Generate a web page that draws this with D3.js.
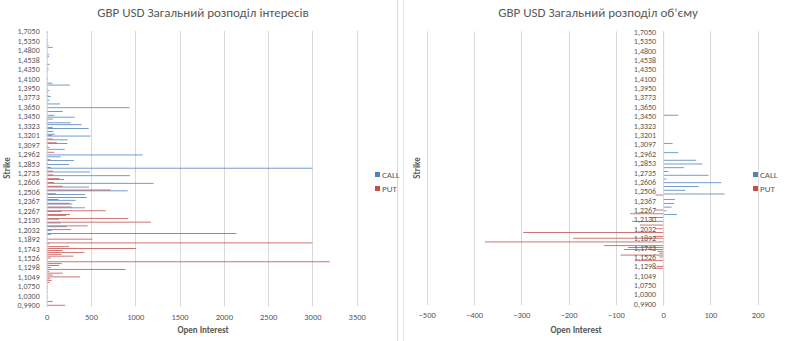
<!DOCTYPE html>
<html><head><meta charset="utf-8">
<script src="https://cdn.jsdelivr.net/npm/d3@7"></script>
<style>
html,body{margin:0;padding:0;background:#fff;}
svg text{font-family:"Liberation Sans Narrow","Carlito","Liberation Sans",Arial,sans-serif;fill:#595959;}
</style></head>
<body><svg id="c" width="800" height="341"></svg>
<script>
// Strikes, bottom (index 0) to top
const strikes = ["0,9900","0,9950","1,0000","1,0100","1,0200","1,0300","1,0400","1,0500","1,0550","1,0650",
"1,0750","1,0800","1,0850","1,0900","1,1000","1,1049","1,1100","1,1150","1,1200","1,1250",
"1,1298","1,1350","1,1400","1,1450","1,1500","1,1526","1,1550","1,1600","1,1650","1,1700",
"1,1743","1,1750","1,1793","1,1800","1,1850","1,1892","1,1900","1,1941","1,1950","1,2000",
"1,2032","1,2050","1,2082","1,2100","1,2106","1,2130","1,2150","1,2181","1,2200","1,2231",
"1,2267","1,2281","1,2300","1,2316","1,2350","1,2367","1,2400","1,2416","1,2450","1,2466",
"1,2506","1,2516","1,2550","1,2566","1,2600","1,2606","1,2650","1,2656","1,2700","1,2706",
"1,2735","1,2750","1,2785","1,2800","1,2835","1,2853","1,2884","1,2900","1,2933","1,2950",
"1,2962","1,3000","1,3011","1,3050","1,3060","1,3097","1,3100","1,3150","1,3159","1,3200",
"1,3201","1,3250","1,3258","1,3300","1,3307","1,3323","1,3350","1,3357","1,3400","1,3406",
"1,3450","1,3500","1,3550","1,3600","1,3620","1,3650","1,3700","1,3724","1,3750","1,3760",
"1,3773","1,3800","1,3850","1,3900","1,3922","1,3950","1,4000","1,4050","1,4071","1,4075",
"1,4100","1,4150","1,4200","1,4250","1,4300","1,4350","1,4400","1,4450","1,4500","1,4525",
"1,4538","1,4600","1,4650","1,4700","1,4750","1,4800","1,4900","1,5000","1,5100","1,5200",
"1,5350","1,5500","1,5800","1,6000","1,6500","1,7050"];

const tickLabels = ["0,9900","1,0300","1,0750","1,1049","1,1298","1,1526","1,1743","1,1892","1,2032","1,2130",
"1,2267","1,2367","1,2506","1,2606","1,2735","1,2853","1,2962","1,3097","1,3201","1,3323",
"1,3450","1,3650","1,3773","1,3950","1,4100","1,4350","1,4538","1,4800","1,5350","1,7050"];

// Open interest (left chart)
const oiCall = [0,0,0,0,0,0,0,0,0,0,
0,0,0,0,0,0,0,0,0,0,
0,0,0,0,0,0,0,0,0,0,
0,0,0,30,0,0,0,0,49,0,
56,0,226,0,158,0,139,0,218,0,
169,0,432,0,290,0,327,0,0,432,
0,915,0,477,0,1207,0,196,0,940,
0,489,0,3000,0,252,0,308,0,158,
1083,0,0,203,30,0,233,0,237,0,
496,90,0,0,474,0,395,270,0,68,
316,86,0,180,0,936,0,150,0,34,
0,45,0,15,30,8,0,260,64,0,
10,8,0,0,15,0,0,0,35,0,
0,0,25,30,0,0,0,68,20,8,
8,8,0,0,0,10];

const oiPut = [207,0,68,0,8,0,0,8,0,8,
11,0,30,56,38,376,68,180,30,891,
45,139,169,3196,8,49,301,169,425,180,
1008,252,0,3000,0,515,0,0,2143,0,
274,0,462,0,1177,0,921,0,263,0,
665,0,282,0,263,0,132,451,0,102,
0,722,0,180,0,83,0,143,0,75,
0,68,0,45,0,8,0,45,0,10,
0,86,0,0,15,0,113,0,68,0,
60,0,75,0,68,0,10,0,8,0,
0,0,0,0,0,0,0,0,0,0,
0,19,0,0,0,0,0,0,0,0,
0,0,0,0,0,22,0,0,0,0,
0,0,0,0,0,0,0,0,0,0,
0,0,0,0,0,0];

// Volume (right chart)
const volCall = [0,0,0,0,0,0,0,0,0,0,
0,0,0,0,0,0,0,0,0,0,
0,0,0,0,0,0,0,0,0,0,
0,0,0,0,0,0,0,0,0,0,
0,0,0,0,2,0,0,0,29,0,
7,0,18,0,23,0,25,0,0,130,
0,47,0,75,0,123,0,7,0,96,
0,11,0,44,0,83,0,70,0,0,
0,32,0,0,0,0,20,0,1,0,
1,0,0,0,0,0,0,0,0,0,
0,32,0,0,0,0,0,0,0,0,
0,0,0,0,0,0,0,0,0,0,
0,0,0,0,0,0,0,0,0,0,
0,0,0,0,0,0,0,0,0,0,
0,0,0,0,0,0];

const volPut = [0,0,0,0,0,0,0,0,0,0,
0,0,0,0,0,0,0,0,0,-18,
-14,0,0,-60,0,-8,-90,-8,-12,-83,
-74,-125,0,-377,0,-190,-20,0,-296,0,
-16,0,-49,0,-66,0,-30,0,-70,0,
-18,0,0,0,0,0,0,0,-16,0,
0,0,0,0,0,0,0,0,0,0,
0,0,0,0,0,0,0,0,0,0,
0,0,0,0,0,0,0,0,0,0,
0,0,0,0,0,0,0,0,0,0,
0,0,0,0,0,0,0,0,0,0,
0,0,0,0,0,0,0,0,0,0,
0,0,0,0,0,0,0,0,0,0,
0,0,0,0,0,0,0,0,0,0,
0,0,0,0,0,0];

const seriesNames = ["CALL","PUT"];
const colors = {CALL:"#4F81BD", PUT:"#C0504D"};
const xTicksLeft = [0,500,1000,1500,2000,2500,3000,3500];
const xTicksRight = [-500,-400,-300,-200,-100,0,100,200];

const svg = d3.select("#c");
svg.append("rect").attr("width",800).attr("height",341).attr("fill","#fff");
// chart borders
svg.append("line").attr("x1",397.5).attr("x2",397.5).attr("y1",0).attr("y2",341).attr("stroke","#d9d9d9");
svg.append("line").attr("x1",403.5).attr("x2",403.5).attr("y1",0).attr("y2",341).attr("stroke","#e6e6e6");

function panel(opt){
  const g = svg.append("g");
  const x = d3.scaleLinear().domain(opt.xDomain).range([opt.x0, opt.x1]);
  const y = d3.scaleBand().domain(strikes).range([opt.yBottom, opt.yTop]).paddingInner(0.1).paddingOuter(0.05);
  const sub = d3.scaleBand().domain(["PUT","CALL"]).range([0, y.bandwidth()]).padding(0.05);
  // gridlines
  g.append("g").selectAll("line").data(opt.xTicks).join("line")
    .attr("x1",d=>Math.round(x(d))+0.5).attr("x2",d=>Math.round(x(d))+0.5)
    .attr("y1",opt.yTop).attr("y2",opt.yBottom)
    .attr("stroke","#d9d9d9").attr("stroke-width",1);
  // bars
  const rows = [];
  strikes.forEach((s,i)=>{
    rows.push({s, k:"CALL", v:opt.call[i]});
    rows.push({s, k:"PUT", v:opt.put[i]});
  });
  g.append("g").selectAll("rect").data(rows.filter(d=>d.v!==0)).join("rect")
    .attr("x",d=>Math.min(x(0),x(d.v)))
    .attr("width",d=>Math.abs(x(d.v)-x(0)))
    .attr("y",d=>y(d.s)+sub(d.k))
    .attr("height",sub.bandwidth())
    .attr("fill",d=>colors[d.k]);
  // category axis
  const ay = g.append("g").attr("transform",`translate(${x(0)},0)`)
    .call(d3.axisLeft(y).tickValues(tickLabels).tickSize(0).tickPadding(7));
  ay.select(".domain").attr("stroke","#d9d9d9");
  ay.selectAll("text").attr("font-size","8px").attr("fill","#595959");
  // value axis labels
  const ax = g.append("g").attr("transform",`translate(0,${opt.yBottom})`)
    .call(d3.axisBottom(x).tickValues(opt.xTicks).tickSize(0).tickPadding(7).tickFormat(d3.format("d")));
  ax.select(".domain").remove();
  ax.selectAll("text").attr("font-size","8.5px").attr("fill","#595959");
  // titles
  g.append("text").attr("x",opt.titleX).attr("y",17).attr("text-anchor","middle")
    .attr("font-size","13px").text(opt.title);
  g.append("text").attr("x",opt.xLabelX).attr("y",333).attr("text-anchor","middle")
    .attr("font-size","9px").attr("font-weight","bold").text("Open Interest");
  g.append("text").attr("transform",`translate(${opt.yLabelX},168) rotate(-90)`).attr("text-anchor","middle")
    .attr("font-size","9px").attr("font-weight","bold").text("Strike");
  // legend
  const lg = g.append("g").attr("transform",`translate(${opt.legendX},175)`);
  seriesNames.forEach((n,i)=>{
    lg.append("rect").attr("x",0).attr("y",i*14-3).attr("width",5).attr("height",5).attr("fill",colors[n]);
    lg.append("text").attr("x",7).attr("y",i*14+3).attr("font-size","9px").text(n);
  });
}

panel({xDomain:[0,3500], x0:46.7, x1:356.7, yTop:30.8, yBottom:306.6, xTicks:xTicksLeft,
  call:oiCall, put:oiPut, title:"GBP USD Загальний розподіл інтересів", titleX:203, xLabelX:203,
  yLabelX:10, legendX:375});
panel({xDomain:[-500,200], x0:426.7, x1:757.7, yTop:31.3, yBottom:305.2, xTicks:xTicksRight,
  call:volCall, put:volPut, title:"GBP USD Загальний розподіл об’єму", titleX:598, xLabelX:576,
  yLabelX:420, legendX:753});
</script></body></html>
